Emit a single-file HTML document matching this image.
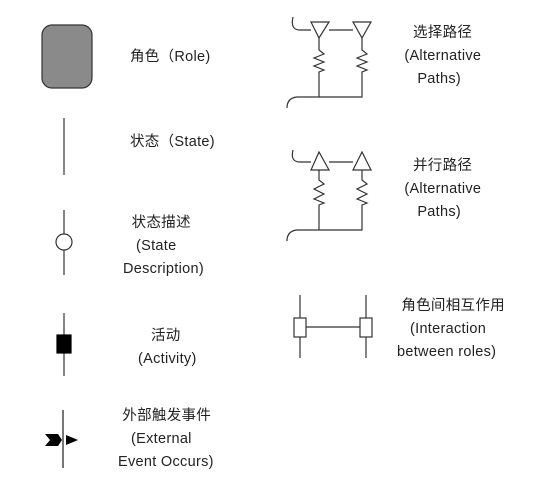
<!DOCTYPE html>
<html><head><meta charset="utf-8"><style>
body{margin:0;background:#fff;width:535px;height:484px;overflow:hidden;position:relative;font-family:"Liberation Sans","Noto Sans CJK SC",sans-serif;color:#222}
.t{position:absolute;font-size:14.5px;line-height:23px;white-space:pre;letter-spacing:0.3px}
svg{position:absolute;left:0;top:0}
</style></head><body>
<svg width="535" height="484" fill="none" stroke="#333" stroke-width="1.2">
<rect x="42" y="25" width="50" height="63" rx="10" fill="#8a8a8a" stroke="#333"/>
<line x1="64" y1="118" x2="64" y2="175"/>
<g><line x1="64" y1="210" x2="64" y2="234"/><circle cx="64" cy="242" r="8"/><line x1="64" y1="250" x2="64" y2="275"/></g>
<g><line x1="64" y1="313" x2="64" y2="376"/><rect x="57" y="335" width="14" height="18" fill="#000" stroke="#000"/></g>
<g><line x1="63" y1="410" x2="63" y2="468" stroke="#777" stroke-width="2"/><path d="M45 434 L58 434 L62 440 L58 446 L45 446 L50 440 Z" fill="#000" stroke="none"/><path d="M66 435 L78 440 L66 445 Z" fill="#000" stroke="none"/></g>
<g>
<path d="M293 17 Q290 30 300 30 L311 30 M329 30 L353 30"/>
<path d="M311 22 L329 22 L319 38 Z M353 22 L371 22 L362 38 Z"/>
<path d="M319 38 L319 50 L324 54 L314 58 L324 62 L314 66 L324 70 L319 72 L319 97 M362 38 L362 50 L367 54 L357 58 L367 62 L357 66 L367 70 L362 72 L362 97 L297 97 Q287 98 287 108"/>
</g>
<g>
<path d="M293 150 Q290 162 300 162 L311 162 M329 162 L353 162"/>
<path d="M311 170 L329 170 L319 152 Z M353 170 L371 170 L362 152 Z"/>
<path d="M319 170 L319 180 L324 184 L314 189 L324 194 L314 199 L324 203 L319 205 L319 230 M362 170 L362 180 L367 184 L357 189 L367 194 L357 199 L367 203 L362 205 L362 230 L297 230 Q287 231 287 241"/>
</g>
<g>
<line x1="300" y1="295" x2="300" y2="358"/><line x1="366" y1="295" x2="366" y2="358"/>
<rect x="294" y="318" width="12" height="19" fill="#fff"/><rect x="360" y="318" width="12" height="19" fill="#fff"/>
<line x1="306" y1="327" x2="360" y2="327"/>
</g>
</svg>
<div class="t" style="left:130px;top:46px">角色（Role)</div>
<div class="t" style="left:130px;top:131px">状态（State)</div>
<div class="t" style="left:123px;top:212px">  状态描述
   (State
Description)</div>
<div class="t" style="left:138px;top:325px">   活动
(Activity)</div>
<div class="t" style="left:118px;top:405px"> 外部触发事件
   (External
Event Occurs)</div>
<div class="t" style="left:400px;top:22px">   选择路径
 (Alternative
    Paths)</div>
<div class="t" style="left:400px;top:155px">   并行路径
 (Alternative
    Paths)</div>
<div class="t" style="left:397px;top:295px"> 角色间相互作用
   (Interaction
between roles)</div>
</body></html>
